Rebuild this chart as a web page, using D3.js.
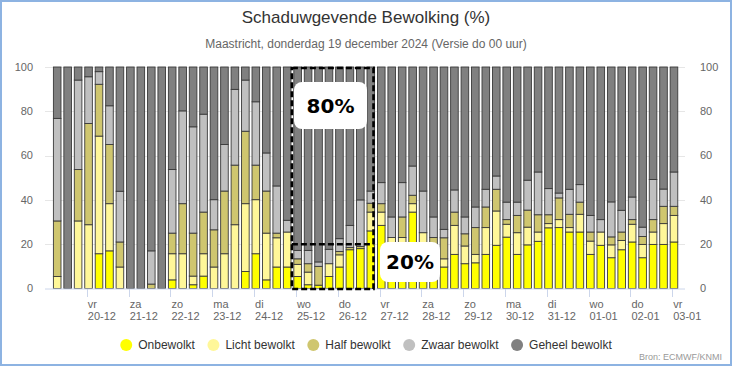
<!DOCTYPE html>
<html><head><meta charset="utf-8">
<script src="https://cdn.jsdelivr.net/npm/d3@7"></script>
<style>body{margin:0;background:#fff;} svg{display:block}</style>
</head><body><svg id="c" width="732" height="366"></svg>
<script>
const seriesNames = ["Onbewolkt","Licht bewolkt","Half bewolkt","Zwaar bewolkt","Geheel bewolkt"];
const seriesColors = ["#ffff00","#fff799","#cfc66f","#c0c0c0","#808080"];
const onbewolkt = [0,0,0,0,15.7,17,0,0,0,0,0,3.9,0,1.7,5.6,0,0,0,7.7,15.7,3.9,9.7,9.7,5.4,1.7,1.5,5.4,9.7,17.5,18,26,28.5,20,20,34.5,20,18,9.7,15.4,11.2,11.6,15.4,19.5,23.2,15.4,19.7,21.3,27.4,27.5,25.5,25.5,15.4,19.5,13.9,17.5,21,13.9,19.9,19.9,21];
const lichtBewolkt = [5.4,0,30.5,28.8,53.1,21.3,9.7,0,0,0,0,11.8,15.7,3.9,10.1,9.7,15.7,28.8,30.6,24.4,21.1,13.2,15.8,5.5,5.7,0,5.8,5.5,0,0,8.5,6,3,3,3.8,5.2,0,3.7,13.1,8,3.8,12.1,15.5,5.8,9.8,8,4.2,1.9,3.6,2,8,6,6,5.8,4.2,8,6,5.6,9.4,12];
const halfBewolkt = [25.1,0,23.2,45.7,23.4,26.7,11.3,0,0,2,0,9.3,22.6,19.4,18.8,16.8,28.3,26.9,32.7,15.6,19,2.1,0,2.5,3.8,8.5,0,1.5,1,1,4,3.8,0,9.3,3.8,0,5,9.5,6,5.5,12.1,9.3,9.8,2.1,7.8,7.7,7.8,4,9.8,6,5.5,4.1,0,3.6,3.8,2.1,3.6,5.6,7.8,4.1];
const zwaarBewolkt = [46.3,0,40.4,21.1,5.7,17.5,22.9,0,0,15,0,28.7,41.9,48,44.2,13.6,21,34.2,23.1,28.6,17.2,21.3,5.3,3.8,6,2,6.5,5.8,10,21,5.5,9.5,9.3,15.5,13.2,18.8,9.3,3.8,10,7.6,9.3,8,6,7.9,6,13.5,19.3,11.8,2.2,11.3,7.9,7.5,5.6,15.8,9.8,10.2,4.2,18.1,7.8,15.5];
const geheelBewolkt = [23.2,100,5.9,4.4,2.1,17.5,56.1,100,100,83,100,46.3,19.8,27,21.3,59.9,35,10.1,5.9,15.7,38.8,53.7,69.2,82.8,82.8,88,82.3,77.5,71.5,60,56,52.2,67.7,52.2,44.7,56,67.7,73.3,55.5,67.7,63.2,55.2,49.2,61,61,51.1,47.4,54.9,56.9,55.2,53.1,67,68.9,60.9,64.7,58.7,72.3,50.8,55.1,47.4];
const dayNames = ["vr","za","zo","ma","di","wo","do","vr","za","zo","ma","di","wo","do","vr"];
const dayDates = ["20-12","21-12","22-12","23-12","24-12","25-12","26-12","27-12","28-12","29-12","30-12","31-12","01-01","02-01","03-01"];
const yTicks = [0,20,40,60,80,100];
const title = "Schaduwgevende Bewolking (%)";
const subtitle = "Maastricht, donderdag 19 december 2024 (Versie do 00 uur)";
const source = "Bron: ECMWF/KNMI";
const labelHigh = "80%", labelLow = "20%";
const highlightStartDay = 5, highlightEndDay = 7, highlightLevel = 20;

const H = 3600*1000;
const firstBar = Date.UTC(2024,11,19,7);
const firstTick = Date.UTC(2024,11,20,0);
const n = onbewolkt.length;
const rows = d3.range(n).map(i => ({
  t: firstBar + i*6*H,
  [seriesNames[0]]: onbewolkt[i],
  [seriesNames[1]]: lichtBewolkt[i],
  [seriesNames[2]]: halfBewolkt[i],
  [seriesNames[3]]: zwaarBewolkt[i],
  [seriesNames[4]]: geheelBewolkt[i]
}));

const svg = d3.select("#c");
const font = "'Liberation Sans', Arial, sans-serif";
svg.append("rect").attr("width",732).attr("height",366).attr("fill","#fff");

const x = d3.scaleUtc().domain([Date.UTC(2024,11,19,0), Date.UTC(2025,0,3,7,20)]).range([45,685]);
const y = d3.scaleLinear().domain([0,100]).range([288.5,67]);

// grid
svg.append("g").selectAll("line").data(yTicks.filter(d=>d>0)).join("line")
  .attr("x1",45).attr("x2",685).attr("y1",d=>Math.round(y(d))+0.5).attr("y2",d=>Math.round(y(d))+0.5)
  .attr("stroke","#e6e6e6");

// y labels
const yl = svg.append("g").attr("font-family",font).attr("font-size",11).attr("fill","#666");
yl.selectAll("text.l").data(yTicks).join("text").attr("class","l")
  .attr("x",33).attr("y",d=>y(d)).attr("dy","0.35em").attr("text-anchor","end").text(d=>d);
yl.selectAll("text.r").data(yTicks).join("text").attr("class","r")
  .attr("x",700).attr("y",d=>y(d)).attr("dy","0.35em").attr("text-anchor","start").text(d=>d);

// stacks
const stack = d3.stack().keys(seriesNames)(rows);
const bw = 7.6;
const g = svg.append("g");
stack.forEach((layer,k) => {
  g.append("g").selectAll("rect").data(layer).join("rect")
    .attr("x", d => x(d.data.t) - bw/2)
    .attr("width", bw)
    .attr("y", d => y(d[1]))
    .attr("height", d => Math.max(0, y(d[0]) - y(d[1])))
    .attr("fill", seriesColors[k])
    .attr("stroke", d => (d[1]-d[0])>0 ? "#3a3a3a" : "none")
    .attr("stroke-width", 0.9);
});

// x axis
svg.append("line").attr("x1",45).attr("x2",685).attr("y1",289).attr("y2",289).attr("stroke","#ccd6eb");
const ticks = dayDates.map((d,i)=>({t:firstTick + i*24*H, day:dayNames[i], date:d}));
const xa = svg.append("g").attr("font-family",font).attr("font-size",11).attr("fill","#666");
xa.selectAll("line").data(ticks).join("line")
  .attr("x1",d=>Math.round(x(d.t))+0.5).attr("x2",d=>Math.round(x(d.t))+0.5)
  .attr("y1",289).attr("y2",297).attr("stroke","#ccd6eb");
xa.selectAll("text.d").data(ticks).join("text").attr("class","d")
  .attr("x",d=>x(d.t)+1).attr("y",308).text(d=>d.day);
xa.selectAll("text.e").data(ticks).join("text").attr("class","e")
  .attr("x",d=>x(d.t)+1).attr("y",320).text(d=>d.date);

// annotation
const bx0 = x(firstTick + highlightStartDay*24*H) - 4;
const bx1 = x(firstTick + highlightEndDay*24*H) - 6;
const ann = svg.append("g").attr("fill","none").attr("stroke","#000").attr("stroke-width",2.6).attr("stroke-dasharray","6,3");
ann.append("rect").attr("x",bx0).attr("y",68).attr("width",bx1-bx0).attr("height",221);
ann.append("line").attr("x1",bx0).attr("x2",bx1).attr("y1",y(highlightLevel)).attr("y2",y(highlightLevel));

const lab = svg.append("g").attr("font-family","'DejaVu Sans', sans-serif").attr("font-weight","bold").attr("font-size",20).attr("fill","#000");
lab.append("rect").attr("x",294).attr("y",82).attr("width",73).attr("height",47).attr("rx",8).attr("fill","#fff");
lab.append("text").attr("x",330.5).attr("y",106).attr("dy","0.36em").attr("text-anchor","middle").text(labelHigh);
lab.append("rect").attr("x",380).attr("y",242).attr("width",60).attr("height",40).attr("rx",8).attr("fill","#fff");
lab.append("text").attr("x",410).attr("y",262).attr("dy","0.36em").attr("text-anchor","middle").text(labelLow);

// titles
svg.append("text").attr("x",366).attr("y",23).attr("text-anchor","middle").attr("font-family",font)
  .attr("font-size",17).attr("fill","#333").text(title);
svg.append("text").attr("x",366).attr("y",48).attr("text-anchor","middle").attr("font-family",font)
  .attr("font-size",12).attr("fill","#666").text(subtitle);

// legend
const leg = svg.append("g").attr("font-family",font).attr("font-size",12).attr("fill","#333");
const items = [];
seriesNames.forEach((s,i)=>{
  const it = leg.append("g");
  it.append("circle").attr("cx",6).attr("cy",0).attr("r",6).attr("fill",seriesColors[i]);
  const t = it.append("text").attr("x",18).attr("y",4.2).text(s);
  const w = t.node().getComputedTextLength();
  items.push({it, w:18+w});
});
const gap = 12.5;
const total = d3.sum(items, d=>d.w) + gap*(items.length-1);
let pos = 366 - total/2;
items.forEach(d=>{ d.it.attr("transform",`translate(${pos},345)`); pos += d.w + gap; });

svg.append("text").attr("x",722).attr("y",360).attr("text-anchor","end").attr("font-family",font)
  .attr("font-size",9).attr("fill","#999").text(source);

// frame
svg.append("rect").attr("x",1).attr("y",1).attr("width",730).attr("height",364)
  .attr("fill","none").attr("stroke","#8db3e2").attr("stroke-width",2);
</script></body></html>
